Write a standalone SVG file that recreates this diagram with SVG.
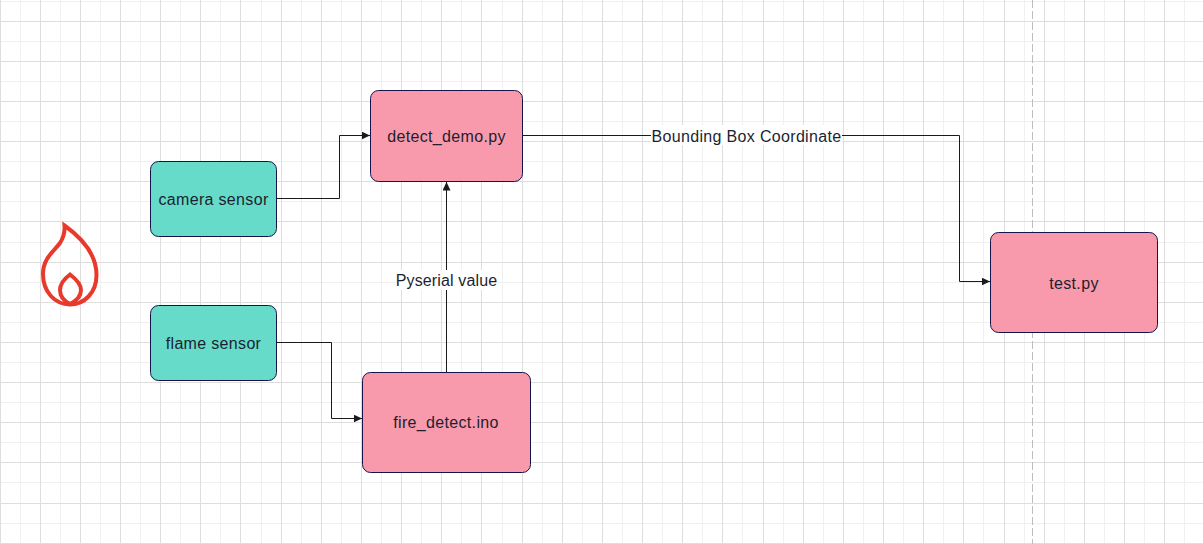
<svg xmlns="http://www.w3.org/2000/svg" width="1203" height="544" viewBox="0 0 1203 544">
<style>
.minor{stroke:#f0f0f0;stroke-width:1;fill:none}
.major{stroke:#dedede;stroke-width:1;fill:none}
.conn{stroke:#1a1a1a;stroke-width:1;fill:none;marker-end:url(#arrow)}
.box{stroke:#14144a;stroke-width:1}
.pink{fill:#f99aac}
.teal{fill:#66dbc9}
text{font-family:"Liberation Sans",Arial,sans-serif;font-size:16px;letter-spacing:.33px;fill:#1c1f30;text-anchor:middle}
.label{fill:#ffffff;stroke:none}
.flame{fill:none;stroke:#e8392b;stroke-width:4;stroke-linejoin:miter}
</style>
<defs>
<marker id="arrow" markerUnits="userSpaceOnUse" markerWidth="10" markerHeight="9" refX="8.5" refY="4" orient="auto"><path d="M0 0L8.5 4L0 8Z" fill="#1a1a1a"/></marker>
</defs>
<rect width="1203" height="544" fill="#ffffff"/>
<g id="grid">
<path class="minor" d="M20.5 0V544M60.5 0V544M100.5 0V544M140.5 0V544M180.5 0V544M220.5 0V544M261.5 0V544M301.5 0V544M341.5 0V544M381.5 0V544M421.5 0V544M461.5 0V544M502.5 0V544M542.5 0V544M582.5 0V544M622.5 0V544M662.5 0V544M702.5 0V544M742.5 0V544M783.5 0V544M823.5 0V544M863.5 0V544M903.5 0V544M943.5 0V544M983.5 0V544M1024.5 0V544M1064.5 0V544M1104.5 0V544M1144.5 0V544M1184.5 0V544M0 1.5H1203M0 41.5H1203M0 81.5H1203M0 121.5H1203M0 161.5H1203M0 201.5H1203M0 242.5H1203M0 282.5H1203M0 322.5H1203M0 362.5H1203M0 402.5H1203M0 442.5H1203M0 482.5H1203M0 523.5H1203"/>
<path class="major" d="M0.5 0V544M40.5 0V544M80.5 0V544M120.5 0V544M160.5 0V544M200.5 0V544M240.5 0V544M281.5 0V544M321.5 0V544M361.5 0V544M401.5 0V544M441.5 0V544M481.5 0V544M522.5 0V544M562.5 0V544M602.5 0V544M642.5 0V544M682.5 0V544M722.5 0V544M763.5 0V544M803.5 0V544M843.5 0V544M883.5 0V544M923.5 0V544M963.5 0V544M1004.5 0V544M1044.5 0V544M1084.5 0V544M1124.5 0V544M1164.5 0V544M0 21.5H1203M0 61.5H1203M0 101.5H1203M0 141.5H1203M0 181.5H1203M0 221.5H1203M0 262.5H1203M0 302.5H1203M0 342.5H1203M0 382.5H1203M0 422.5H1203M0 462.5H1203M0 503.5H1203M0 543.5H1203"/>
</g>
<path id="divider" d="M1032.5 0V544" fill="none" stroke="#bdbdbd" stroke-width="1" stroke-dasharray="8 3"/>
<g id="connectors">
<path class="conn" d="M277 198.5H339.5V135.5H370"/>
<path class="conn" d="M277 342.5H331.5V418.5H362"/>
<path class="conn" d="M446.5 372V182"/>
<path class="conn" d="M523 135.5H959.5V281.5H990"/>
<rect class="label" x="396" y="270" width="101" height="20"/>
<text x="446.5" y="286" style="letter-spacing:.13px">Pyserial value</text>
<rect class="label" x="651" y="125" width="191" height="20"/>
<text x="746.5" y="142">Bounding Box Coordinate</text>
</g>
<g id="flame-icon">
<path class="flame" d="M64.5 225.5C75 233 96.5 250 96.5 275C96.5 293 84 304.5 70 304.5C55 304.5 43 292 43 274C43 258 55 250 60 243C64 237 65 232 64.5 225.5Z"/>
<path class="flame" d="M70 274.5C76 279 81 284 81 290C81 296 76 301 70 304C64 301 60 296 60 290C60 284 64 279 70 274.5Z"/>
</g>
<g id="camera-sensor"><rect class="box teal" x="150.5" y="161.5" width="126" height="75" rx="8"/><text x="213.5" y="205">camera sensor</text></g>
<g id="flame-sensor"><rect class="box teal" x="150.5" y="305.5" width="126" height="75" rx="8"/><text x="213.5" y="349">flame sensor</text></g>
<g id="detect-demo"><rect class="box pink" x="370.5" y="90.5" width="152" height="91" rx="8"/><text x="446.5" y="142">detect_demo.py</text></g>
<g id="fire-detect"><rect class="box pink" x="362.5" y="372.5" width="168" height="100" rx="8"/><text x="446" y="428">fire_detect.ino</text></g>
<g id="test-py"><rect class="box pink" x="990.5" y="232.5" width="167" height="100" rx="8"/><text x="1074" y="289">test.py</text></g>
</svg>
